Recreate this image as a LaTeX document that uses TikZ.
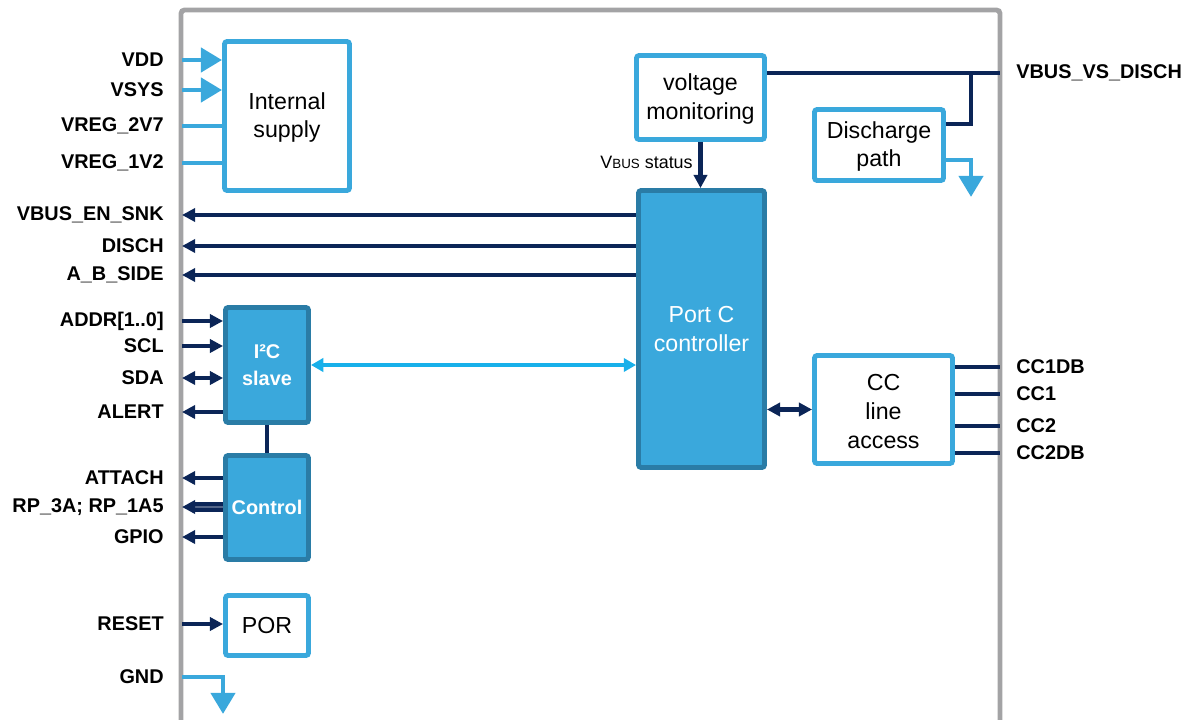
\documentclass[tikz,border=0pt]{standalone}
\usepackage{fontspec}
\setmainfont{Liberation Sans}
\usepackage{tikz}
\usetikzlibrary{arrows.meta}
\usetikzlibrary{positioning}
\definecolor{stblue}{HTML}{3AA8DC}
\definecolor{stdark}{HTML}{2A7CA6}
\definecolor{navy}{HTML}{0B2557}
\definecolor{cyanl}{HTML}{18B0EA}
\definecolor{chipgray}{HTML}{A3A3A5}
\tikzset{wbox/.style={rectangle,draw=stblue,fill=white,line width=2.8pt,rounded corners=1.5pt,align=center,inner sep=0pt,font=\fontsize{13.2}{16.2}\selectfont}}
\tikzset{fbox/.style={rectangle,draw=stdark,fill=stblue,line width=2.8pt,rounded corners=1.5pt,align=center,inner sep=0pt,text=white,font=\fontsize{13.2}{16}\selectfont}}
\tikzset{pinlbl/.style={font=\bfseries\fontsize{11.3}{13}\selectfont,inner sep=0pt}}
\tikzset{sig/.style={navy,line width=2.5pt,-{Triangle[length=7.5pt,width=7.5pt]}}}
\tikzset{sigboth/.style={navy,line width=2.5pt,{Triangle[length=7.5pt,width=7.5pt]}-{Triangle[length=7.5pt,width=7.5pt]}}}
\tikzset{bus/.style={navy,line width=2.8pt}}
\tikzset{supin/.style={stblue,line width=2.8pt,-{Triangle[length=12pt,width=13.5pt]}}}
\tikzset{supln/.style={stblue,line width=2.8pt}}

\begin{document}
\begin{tikzpicture}[x=0.02cm, y=-0.02cm]

    \useasboundingbox (0,0) rectangle (1197,720);

    \draw[chipgray, line width=2.8pt, rounded corners=2pt] (181,720) |- (1000,10) -- (1000,720);

    \node[wbox, minimum width=2.5cm, minimum height=2.98cm] (sup) at (287,116) {\strut Internal\\supply};
    \node[wbox, minimum width=2.56cm, minimum height=1.68cm] (vmon) at (700.5,97.5) {\strut voltage\\monitoring};
    \node[wbox, minimum width=2.58cm, minimum height=1.42cm] (dis) at (879,145) {\strut Discharge\\path};
    \node[fbox, minimum width=2.52cm, minimum height=5.54cm] (portc) at (701.5,329) {Port C\\controller};
    \node[fbox, minimum width=1.66cm, minimum height=2.3cm, font=\bfseries\fontsize{11.3}{15}\selectfont] (i2c) at (267,365) {I²C\\slave};
    \node[fbox, minimum width=1.66cm, minimum height=2.08cm, font=\bfseries\fontsize{11.3}{15}\selectfont] (ctl) at (267,507.5) {Control};
    \node[wbox, minimum width=1.66cm, minimum height=1.2cm] (por) at (267,625.5) {POR};
    \node[wbox, minimum width=2.76cm, minimum height=2.16cm, font=\fontsize{13.2}{16.6}\selectfont] (cc) at (883.5,409.5) {\strut CC\\line\\access};

    \foreach \y/\name/\txt in {60/vdd/VDD, 90/vsys/VSYS, 126/vrega/VREG\_2V7, 163/vregb/VREG\_1V2,
                               215/vbus/VBUS\_EN\_SNK, 246/disch/DISCH, 275/abside/A\_B\_SIDE,
                               321/addr/{ADDR[1..0]}, 346/scl/SCL, 378/sda/SDA, 412/alert/ALERT,
                               478/attach/ATTACH, 507/rp/{RP\_3A; RP\_1A5}, 537/gpio/GPIO,
                               624/reset/RESET, 677/gnd/GND}
    {
        \node[pinlbl, anchor=east] (n\name) at (164,\y) {\txt};
        \coordinate (c\name) at (182,\y);
    }

    \foreach \y/\name/\txt in {73/vsd/VBUS\_VS\_DISCH, 367/cca/CC1DB, 394/ccb/CC1, 426/ccc/CC2, 453/ccd/CC2DB}
    {
        \node[pinlbl, anchor=west] (n\name) at (1016,\y) {\txt};
        \coordinate (c\name) at (1000,\y);
    }

    \draw[supin] (cvdd) -- (cvdd -| sup.west);
    \draw[supin] (cvsys) -- (cvsys -| sup.west);
    \draw[supln] (cvrega) -- (cvrega -| sup.west);
    \draw[supln] (cvregb) -- (cvregb -| sup.west);

    \draw[sig] (portc.west |- cvbus) -- (cvbus);
    \draw[sig] (portc.west |- cdisch) -- (cdisch);
    \draw[sig] (portc.west |- cabside) -- (cabside);

    \draw[sig] (caddr) -- (caddr -| i2c.west);
    \draw[sig] (cscl) -- (cscl -| i2c.west);
    \draw[sigboth] (csda) -- (csda -| i2c.west);
    \draw[sig] (calert -| i2c.west) -- (calert);

    \draw[bus] (i2c) -- (ctl);

    \draw[sig] (cattach -| ctl.west) -- (cattach);
    \draw[navy, line width=2.6pt, double=navy!70, double distance=0.6pt, -{Triangle[length=7.5pt,width=7.5pt]}] (crp -| ctl.west) -- (crp);
    \draw[sig] (cgpio -| ctl.west) -- (cgpio);

    \draw[sig] (creset) -- (creset -| por.west);

    \coordinate (ggnd) at (223,714);
    \draw[supin] (cgnd) -| (ggnd);

    \draw[cyanl, line width=1.8pt, {Triangle[length=7pt,width=7.5pt]}-{Triangle[length=7pt,width=7.5pt]}] (i2c.east) -- (i2c.east -| portc.west);

    \node[anchor=east, inner sep=0pt, font=\fontsize{10.2}{12}\selectfont] (vst) at (693,162) {V{\fontsize{7.6}{9}\selectfont BUS} status};
    \draw[sig] (vmon.south) -- (vmon.south |- portc.north);

    \coordinate (jn) at (971,73);
    \coordinate (jd) at (0,124);
    \draw[bus] (vmon.east |- cvsd) -- (cvsd);
    \draw[bus] (jn) |- (dis.east |- jd);

    \coordinate (gdy) at (0,160);
    \coordinate (gdis) at (971,197);
    \draw[supin] (dis.east |- gdy) -| (gdis);

    \draw[sigboth] (portc.east |- cc.west) -- (cc.west);

    \foreach \name in {cca, ccb, ccc, ccd}
        \draw[bus] (cc.east |- c\name) -- (c\name);

\end{tikzpicture}
\end{document}
